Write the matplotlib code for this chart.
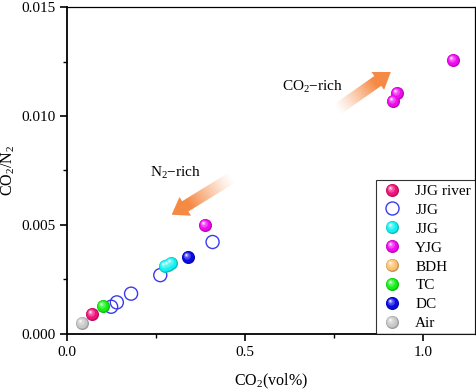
import numpy as np
import matplotlib
matplotlib.use("Agg")
import matplotlib.pyplot as plt
from matplotlib.path import Path
from matplotlib.lines import Line2D
from matplotlib.legend_handler import HandlerTuple
from matplotlib.patches import PathPatch
import matplotlib.colors as mcolors

plt.rcParams['font.family'] = ['Liberation Serif', 'DejaVu Serif']
plt.rcParams['mathtext.fontset'] = 'custom'
plt.rcParams['mathtext.rm'] = 'Liberation Serif'
plt.rcParams['mathtext.it'] = 'Liberation Serif:italic'

# ---------------- data ----------------
air_x = [0.041]
air_y = [0.00050]
river_x = [0.071]
river_y = [0.00093]
tc_x = [0.100]
tc_y = [0.00130]
jjg_open_x = [0.124, 0.140, 0.180, 0.262, 0.409]
jjg_open_y = [0.00125, 0.00145, 0.00185, 0.00270, 0.00422]
jjg_cyan_x = [0.276, 0.283, 0.291]
jjg_cyan_y = [0.00312, 0.00318, 0.00326]
dc_x = [0.341]
dc_y = [0.00353]
yjg_x = [0.389, 0.915, 0.926, 1.085]
yjg_y = [0.00501, 0.01067, 0.01105, 0.01258]
bdh_x = []
bdh_y = []

# arrows (tail, tip) in data units, and labels
arrow_co2 = ((0.758, 0.01029), (0.910, 0.01203))
arrow_n2 = ((0.463, 0.00717), (0.294, 0.00547))
label_co2 = (0.691, 0.01135)
label_n2 = (0.306, 0.00740)

COL_RIVER = '#F0127A'
COL_CYAN = '#14F0F0'
COL_YJG = '#F00AF0'
COL_BDH = '#FFC070'
COL_TC = '#14F014'
COL_DC = '#0A0AE6'
COL_AIR = '#C8C8C8'
COL_OPEN = '#3A3AF0'

FS = 11


def circle_marker(cx, cy, r):
    c = Path.circle((cx, cy), r)
    verts = np.vstack([c.vertices, [[1, 1], [-1, -1]]])
    codes = np.concatenate([c.codes, [Path.MOVETO, Path.MOVETO]])
    return Path(verts, codes)


def mix(c, w, f):
    a = np.array(mcolors.to_rgb(c))
    b = np.array(mcolors.to_rgb(w))
    return tuple(a * (1 - f) + b * f)


LAYERS = [
    (0.0, 0.0, 1.0, 'dark', 0.22),
    (-0.08, 0.08, 0.86, 'base', 0.0),
    (-0.18, 0.22, 0.55, 'white', 0.25),
    (-0.28, 0.32, 0.30, 'white', 0.55),
    (-0.33, 0.38, 0.13, 'white', 0.95),
]


def layer_color(c, kind, f):
    if kind == 'dark':
        return mix(c, 'black', f)
    if kind == 'base':
        return mcolors.to_rgb(c)
    return mix(c, 'white', f)


SIZE = 9.4  # marker size in points


def sphere(ax, xs, ys, color, z=3):
    for cx, cy, r, kind, f in LAYERS:
        ax.scatter(xs, ys, s=SIZE ** 2, marker=circle_marker(cx, cy, r),
                   color=layer_color(color, kind, f), linewidths=0, zorder=z)


def sphere_handle(color):
    return tuple(Line2D([], [], linestyle='none', marker=circle_marker(cx, cy, r),
                        markersize=SIZE, markeredgewidth=0,
                        markerfacecolor=layer_color(color, kind, f))
                 for cx, cy, r, kind, f in LAYERS)


fig = plt.figure(figsize=(4.77, 3.89), dpi=100)
ax = fig.add_axes([0.1405, 0.1414, 0.855, 0.8406])
ax.set_xlim(0, 1.146)
ax.set_ylim(0, 0.015)


def gradient_arrow(ax, tail, tip, color='#F58A45', shaft=12, head_w=22, head_l=16):
    tr = ax.transData
    p0 = tr.transform(tail)
    p1 = tr.transform(tip)
    d = p1 - p0
    L = np.hypot(*d)
    u = d / L
    n = np.array([-u[1], u[0]])
    hb = p1 - u * head_l
    pts = [p0 + n * shaft / 2, hb + n * shaft / 2, hb + n * head_w / 2, p1,
           hb - n * head_w / 2, hb - n * shaft / 2, p0 - n * shaft / 2, p0 + n * shaft / 2]
    pts = np.array(pts)
    data_pts = tr.inverted().transform(pts)
    patch = PathPatch(Path(data_pts, closed=True), facecolor='none', edgecolor='none')
    ax.add_patch(patch)
    x0, y0 = pts.min(axis=0)
    x1, y1 = pts.max(axis=0)
    nx, ny = int(x1 - x0) + 2, int(y1 - y0) + 2
    gx, gy = np.meshgrid(np.linspace(x0, x1, nx), np.linspace(y0, y1, ny))
    t = ((gx - p0[0]) * u[0] + (gy - p0[1]) * u[1]) / L
    t = np.clip(t, 0, 1)
    img = np.zeros((ny, nx, 4))
    img[..., :3] = mcolors.to_rgb(color)
    img[..., 3] = np.clip(t * 1.4, 0, 1) ** 1.2
    (dx0, dy0), (dx1, dy1) = tr.inverted().transform([[x0, y0], [x1, y1]])
    im = ax.imshow(img, extent=[dx0, dx1, dy0, dy1], origin='lower',
                   aspect='auto', interpolation='bilinear', zorder=2)
    im.set_clip_path(patch)


gradient_arrow(ax, *arrow_co2)
gradient_arrow(ax, *arrow_n2)
ax.set_xlim(0, 1.146)
ax.set_ylim(0, 0.015)

ax.text(*label_co2, 'CO$_2$\u2212rich', fontsize=FS, ha='center', va='center')
ax.text(*label_n2, 'N$_2$\u2212rich', fontsize=FS, ha='center', va='center')

ax.scatter(jjg_open_x, jjg_open_y, s=SIZE ** 2, facecolors='none',
           edgecolors=COL_OPEN, linewidths=1.0, zorder=3)
sphere(ax, air_x, air_y, COL_AIR)
sphere(ax, river_x, river_y, COL_RIVER)
sphere(ax, tc_x, tc_y, COL_TC)
sphere(ax, jjg_cyan_x, jjg_cyan_y, COL_CYAN)
sphere(ax, dc_x, dc_y, COL_DC)
sphere(ax, yjg_x, yjg_y, COL_YJG)
sphere(ax, bdh_x, bdh_y, COL_BDH)

open_handle = Line2D([], [], linestyle='none', marker='o', markersize=SIZE,
                     markerfacecolor='none', markeredgecolor=COL_OPEN, markeredgewidth=1.0)
handles = [sphere_handle(COL_RIVER), open_handle, sphere_handle(COL_CYAN),
           sphere_handle(COL_YJG), sphere_handle(COL_BDH), sphere_handle(COL_TC),
           sphere_handle(COL_DC), sphere_handle(COL_AIR)]
labels = ['JJG river', 'JJG', 'JJG', 'YJG', 'BDH', 'TC', 'DC', 'Air']
leg = ax.legend(handles, labels, loc='lower right', fontsize=FS,
                handler_map={tuple: HandlerTuple(ndivide=1, pad=0)},
                frameon=True, fancybox=False, edgecolor='black',
                borderaxespad=0, borderpad=0.25, labelspacing=0.34,
                handlelength=1.6, handletextpad=0.7)
leg.get_frame().set_linewidth(0.8)

ax.set_xticks([0.0, 0.5, 1.0])
ax.set_xticklabels(['0.0', '0.5', '1.0'])
ax.set_xticks([0.25, 0.75], minor=True)
ax.set_yticks([0.0, 0.005, 0.010, 0.015])
ax.set_yticklabels(['0.000', '0.005', '0.010', '0.015'])
ax.set_yticks([0.0025, 0.0075, 0.0125], minor=True)
ax.tick_params(axis='both', which='major', direction='out', length=5, width=1.2,
               labelsize=FS)
ax.tick_params(axis='both', which='minor', direction='out', length=3, width=1.0)
for s in ['left', 'bottom']:
    ax.spines[s].set_linewidth(1.3)
for s in ['top', 'right']:
    ax.spines[s].set_linewidth(0.9)

ax.set_xlabel('CO$_2$(vol%)', fontsize=11.5, labelpad=9)
ax.set_ylabel('CO$_2$/N$_2$', fontsize=11.5, labelpad=3)

fig.savefig('out.png', dpi=100)
